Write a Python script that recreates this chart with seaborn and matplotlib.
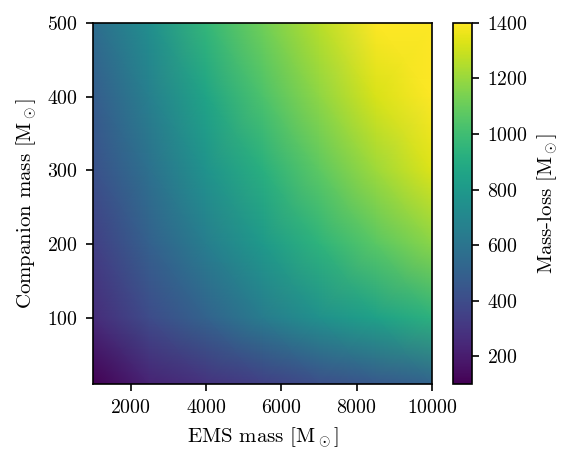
import numpy as np
import matplotlib
matplotlib.use('Agg')
import matplotlib.pyplot as plt
import seaborn as sns

# grid nodes
ems_mass = [1000, 2500, 4000, 5500, 7000, 8500, 10000]
companion_mass = [10, 100, 200, 300, 400, 500]

# mass-loss [Msun], one row per companion mass
loss_m10 = [100, 225, 285, 340, 405, 455, 505]
loss_m100 = [260, 395, 510, 640, 750, 840, 930]
loss_m200 = [340, 500, 650, 800, 940, 1060, 1170]
loss_m300 = [420, 580, 770, 920, 1070, 1210, 1330]
loss_m400 = [480, 660, 860, 1030, 1180, 1320, 1420]
loss_m500 = [560, 740, 960, 1120, 1260, 1400, 1480]

xticks = [2000, 4000, 6000, 8000, 10000]
yticks = [100, 200, 300, 400, 500]
cticks = [200, 400, 600, 800, 1000, 1200, 1400]

sns.set_theme(style='ticks')
plt.rcParams.update({
    'font.family': 'serif',
    'font.serif': ['cmr10'],
    'mathtext.fontset': 'cm',
    'axes.formatter.use_mathtext': True,
    'font.size': 10,
    'axes.labelsize': 10,
    'xtick.labelsize': 9.5,
    'ytick.labelsize': 9.5,
    'text.color': 'black',
    'axes.labelcolor': 'black',
    'axes.edgecolor': 'black',
    'axes.linewidth': 0.8,
    'xtick.color': 'black',
    'ytick.color': 'black',
    'xtick.major.size': 3.5,
    'ytick.major.size': 3.5,
    'xtick.major.width': 0.8,
    'ytick.major.width': 0.8,
})

loss = np.array([loss_m10, loss_m100, loss_m200, loss_m300, loss_m400, loss_m500])
X, Y = np.meshgrid(ems_mass, companion_mass)

cmap = sns.color_palette('viridis', as_cmap=True)

fig = plt.figure(figsize=(577 / 150, 465 / 150), dpi=150)
ax = fig.add_axes([0.161, 0.174, 0.588, 0.777])
cax = fig.add_axes([0.785, 0.174, 0.033, 0.777])

mesh = ax.pcolormesh(X, Y, loss, shading='gouraud', cmap=cmap, vmin=100, vmax=1400)
ax.set_xlim(1000, 10000)
ax.set_ylim(10, 500)
ax.set_xticks(xticks)
ax.set_yticks(yticks)
ax.set_xlabel(r'EMS mass [M$_\odot$]')
ax.set_ylabel(r'Companion mass [M$_\odot$]')

cb = fig.colorbar(mesh, cax=cax)
cb.set_ticks(cticks)
cb.set_label(r'Mass-loss [M$_\odot$]')
cb.outline.set_linewidth(0.8)

fig.savefig('out.png', dpi=150)
